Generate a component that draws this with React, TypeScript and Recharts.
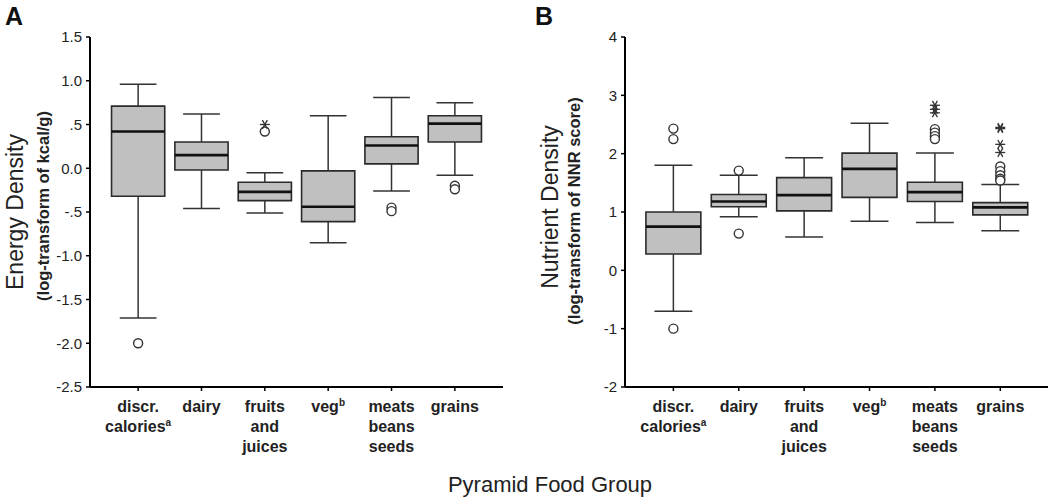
import { ComposedChart, XAxis, YAxis, ReferenceArea, ReferenceLine, Scatter } from 'recharts';

const FONT = '"Liberation Sans", Arial, sans-serif';

// food groups (x axis)
const groupIndex = [0, 1, 2, 3, 4, 5];
const groupLines = [['discr.', 'calories'], ['dairy'], ['fruits', 'and', 'juices'], ['veg'], ['meats', 'beans', 'seeds'], ['grains']];
const groupSup = ['a', '', '', 'b', '', ''];

// panel A: energy density
const energyTicks = [1.5, 1.0, 0.5, 0, -0.5, -1.0, -1.5, -2.0, -2.5];
const energyTickLabels = ['1.5', '1.0', '.5', '0.0', '-.5', '-1.0', '-1.5', '-2.0', '-2.5'];
const energyMin = [-1.71, -0.46, -0.51, -0.85, -0.26, -0.08];
const energyQ1 = [-0.32, -0.02, -0.37, -0.61, 0.05, 0.30];
const energyMedian = [0.42, 0.15, -0.27, -0.44, 0.26, 0.51];
const energyQ3 = [0.71, 0.30, -0.16, -0.03, 0.36, 0.60];
const energyMax = [0.96, 0.62, -0.05, 0.60, 0.81, 0.75];
const energyCircles = [[0, -2.0], [2, 0.42], [4, -0.45], [4, -0.49], [5, -0.2], [5, -0.24]];
const energyStars = [[2, 0.5]];

// panel B: nutrient density
const nutrientTicks = [4, 3, 2, 1, 0, -1, -2];
const nutrientTickLabels = ['4', '3', '2', '1', '0', '-1', '-2'];
const nutrientMin = [-0.7, 0.92, 0.57, 0.84, 0.82, 0.68];
const nutrientQ1 = [0.28, 1.09, 1.02, 1.25, 1.18, 0.95];
const nutrientMedian = [0.75, 1.18, 1.29, 1.74, 1.34, 1.08];
const nutrientQ3 = [1.0, 1.3, 1.59, 2.01, 1.51, 1.16];
const nutrientMax = [1.8, 1.63, 1.93, 2.52, 2.01, 1.47];
const nutrientCircles = [
  [0, 2.43], [0, 2.25], [0, -1.0], [1, 1.71], [1, 0.63],
  [4, 2.42], [4, 2.36], [4, 2.3], [4, 2.25],
  [5, 1.78], [5, 1.7], [5, 1.63], [5, 1.57], [5, 1.54],
];
const nutrientStars = [[4, 2.83], [4, 2.76], [4, 2.7], [5, 2.45], [5, 2.43], [5, 2.16], [5, 2.02]];

const BOX_HALF = 0.42;
const CAP_HALF = 0.29;

const GroupTick = ({ x, y, payload }: any) => {
  const i = payload.value;
  const lines = groupLines[i];
  if (!lines) return null;
  return (
    <text x={x} y={y} textAnchor="middle" fontFamily={FONT} fontWeight="bold" fontSize={16} fill="#222">
      {lines.map((l, k) => (
        <tspan key={k} x={x} dy={k === 0 ? 19 : 20}>
          {l}
          {k === lines.length - 1 && groupSup[i] ? (
            <tspan fontSize={10} dy={-6}>{groupSup[i]}</tspan>
          ) : null}
        </tspan>
      ))}
    </text>
  );
};

const Circle = (p: any) => <circle cx={p.cx} cy={p.cy} r={4.5} fill="#fff" stroke="#333" strokeWidth={1.4} />;

const Star = (p: any) => {
  const r = 5;
  const a = r * Math.cos(Math.PI / 3);
  const b = r * Math.sin(Math.PI / 3);
  return (
    <g stroke="#333" strokeWidth={1.3}>
      <line x1={p.cx - r} y1={p.cy} x2={p.cx + r} y2={p.cy} />
      <line x1={p.cx - a} y1={p.cy - b} x2={p.cx + a} y2={p.cy + b} />
      <line x1={p.cx + a} y1={p.cy - b} x2={p.cx - a} y2={p.cy + b} />
    </g>
  );
};

function Panel({ left, domain, xDomain, ticks, tickLabels, mins, q1s, medians, q3s, maxs, circles, stars, marginLeft, marginRight }: any) {
  const data = groupIndex.map(i => ({ x: i }));
  const circleData = circles.map(([g, v]: number[]) => ({ x: g, y: v }));
  const starData = stars.map(([g, v]: number[]) => ({ x: g, y: v }));
  const seg = { stroke: '#333', strokeWidth: 1.5 };
  return (
    <div style={{ position: 'absolute', left, top: 0 }}>
      <ComposedChart width={525} height={497} data={data} margin={{ top: 37, right: marginRight, bottom: 30, left: marginLeft }}>
        <XAxis
          type="number"
          dataKey="x"
          domain={xDomain}
          ticks={groupIndex}
          interval={0}
          allowDataOverflow
          height={80}
          tick={<GroupTick />}
          tickSize={4}
          tickMargin={2}
          axisLine={{ stroke: '#000', strokeWidth: 2 }}
          tickLine={{ stroke: '#000', strokeWidth: 1.5 }}
        />
        <YAxis
          type="number"
          domain={domain}
          ticks={ticks}
          interval={0}
          allowDataOverflow
          width={60}
          tickSize={4}
          tickMargin={4}
          tickFormatter={(v: number) => tickLabels[ticks.indexOf(v)]}
          tick={{ fill: '#222', fontSize: 15, fontFamily: FONT }}
          axisLine={{ stroke: '#000', strokeWidth: 2 }}
          tickLine={{ stroke: '#000', strokeWidth: 1.5 }}
        />
        {groupIndex.map(i => (
          <ReferenceLine key={`wu${i}`} segment={[{ x: i, y: q3s[i] }, { x: i, y: maxs[i] }]} {...seg} />
        ))}
        {groupIndex.map(i => (
          <ReferenceLine key={`wl${i}`} segment={[{ x: i, y: q1s[i] }, { x: i, y: mins[i] }]} {...seg} />
        ))}
        {groupIndex.map(i => (
          <ReferenceLine key={`cu${i}`} segment={[{ x: i - CAP_HALF, y: maxs[i] }, { x: i + CAP_HALF, y: maxs[i] }]} {...seg} />
        ))}
        {groupIndex.map(i => (
          <ReferenceLine key={`cl${i}`} segment={[{ x: i - CAP_HALF, y: mins[i] }, { x: i + CAP_HALF, y: mins[i] }]} {...seg} />
        ))}
        {groupIndex.map(i => (
          <ReferenceArea
            key={`b${i}`}
            x1={i - BOX_HALF}
            x2={i + BOX_HALF}
            y1={q1s[i]}
            y2={q3s[i]}
            fill="#c0c0c0"
            fillOpacity={1}
            stroke="#2a2a2a"
            strokeWidth={1.6}
          />
        ))}
        {groupIndex.map(i => (
          <ReferenceLine
            key={`m${i}`}
            segment={[{ x: i - BOX_HALF, y: medians[i] }, { x: i + BOX_HALF, y: medians[i] }]}
            stroke="#111"
            strokeWidth={2.6}
          />
        ))}
        <Scatter data={circleData} dataKey="y" shape={Circle} isAnimationActive={false} />
        <Scatter data={starData} dataKey="y" shape={Star} isAnimationActive={false} />
      </ComposedChart>
    </div>
  );
}

export default function App() {
  return (
    <div style={{ position: 'absolute', left: 0, top: 0, width: 1050, height: 497, background: '#fff' }}>
      <Panel
        left={0}
        domain={[-2.5, 1.5]}
        xDomain={[-0.76, 5.76]}
        ticks={energyTicks}
        tickLabels={energyTickLabels}
        mins={energyMin}
        q1s={energyQ1}
        medians={energyMedian}
        q3s={energyQ3}
        maxs={energyMax}
        circles={energyCircles}
        stars={energyStars}
        marginLeft={30}
        marginRight={22}
      />
      <Panel
        left={525}
        domain={[-2, 4]}
        xDomain={[-0.74, 5.73]}
        ticks={nutrientTicks}
        tickLabels={nutrientTickLabels}
        mins={nutrientMin}
        q1s={nutrientQ1}
        medians={nutrientMedian}
        q3s={nutrientQ3}
        maxs={nutrientMax}
        circles={nutrientCircles}
        stars={nutrientStars}
        marginLeft={40}
        marginRight={2}
      />
      <svg width={1050} height={497} style={{ position: 'absolute', left: 0, top: 0, pointerEvents: 'none' }} fontFamily={FONT}>
        <text x={5} y={25} fontSize={25} fontWeight="bold" fill="#111">A</text>
        <text x={535} y={25} fontSize={25} fontWeight="bold" fill="#111">B</text>
        <text transform="translate(23, 212) rotate(-90)" textAnchor="middle" fontSize={23} fill="#222">Energy Density</text>
        <text transform="translate(49, 206) rotate(-90)" textAnchor="middle" fontSize={16.5} fontWeight="bold" fill="#222">(log-transform of kcal/g)</text>
        <text transform="translate(558, 207) rotate(-90)" textAnchor="middle" fontSize={23} fill="#222">Nutrient Density</text>
        <text transform="translate(580, 211) rotate(-90)" textAnchor="middle" fontSize={16.5} fontWeight="bold" fill="#222">(log-transform of NNR score)</text>
        <text x={550} y={492} textAnchor="middle" fontSize={22} fill="#222">Pyramid Food Group</text>
      </svg>
    </div>
  );
}
